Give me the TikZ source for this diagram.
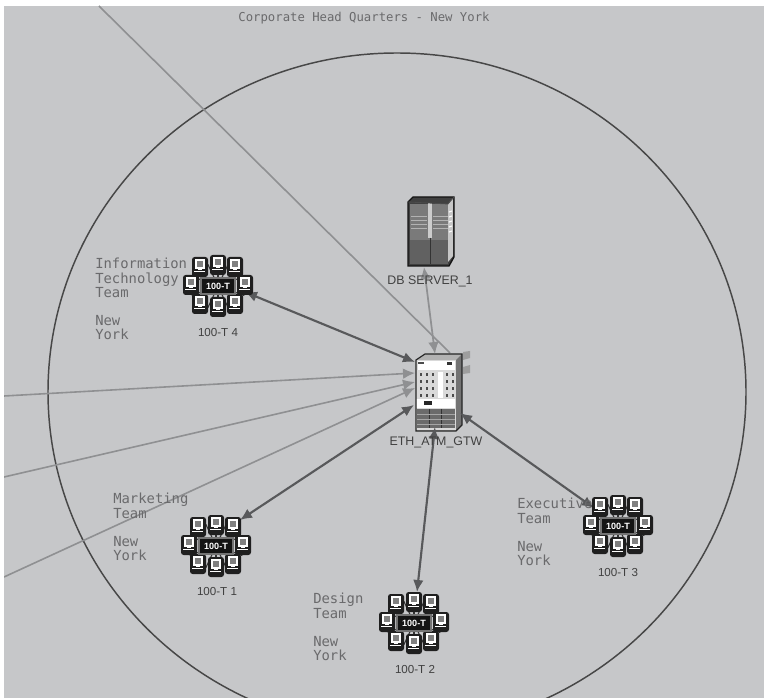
\documentclass[tikz,border=0pt]{standalone}
\usepackage{fontspec}
\setmainfont{Liberation Sans}
\newfontfamily\labelmono{DejaVu Sans Mono}
\usetikzlibrary{arrows.meta}
\definecolor{bgc}{HTML}{C6C7C9}
\definecolor{txtc}{HTML}{6A6A6C}
\definecolor{linkd}{HTML}{58595B}
\definecolor{linkl}{HTML}{8F9092}
\tikzset{
  x=0.75pt,y=-0.75pt,
  duplex/.style={draw=linkd,line width=1.6pt,{Latex[length=9pt,width=8pt]}-{Latex[length=9pt,width=8pt]}},
  srvlink/.style={draw=linkl,line width=1.3pt,{Latex[length=9pt,width=8pt]}-{Latex[length=9pt,width=8pt]}},
  wan/.style={draw=linkl,line width=1.2pt,-{Latex[length=9pt,width=8pt]}},
  devlabel/.style={font=\fontsize{9.3}{10}\selectfont,text=black!75},
  tlabel/.style={font=\fontsize{8.7}{10}\selectfont,text=black!75},
  teamlabel/.style={font=\labelmono\fontsize{10.4}{10.7}\selectfont,text=txtc,align=left,anchor=north west,inner sep=0pt},
  hub/.style={minimum width=27pt,minimum height=13pt,inner sep=0pt},
  group/.pic={
    \foreach \a/\r in {20/28,65/24,90/22,115/24,160/28,200/28,245/24,270/22,295/24,340/28}{
      \draw[black!80,line width=.8pt] (0,0) -- (\a:\r);
    }
    \foreach \px/\py in {-18/-19,0/-21,17/-19,-27/-1,27/-1,-18/18,0/21,17/18}{
      \begin{scope}[shift={(\px,\py)}]
        \fill[black!88,rounded corners=2pt] (-8,-10) rectangle (8,10);
        \draw[white,line width=.8pt] (-4,-7) rectangle (4,1);
        \fill[black!50] (-2.6,-5.6) rectangle (2.6,-.4);
        \draw[white,line width=1.2pt] (-6,4.5) -- (5,4.5);
        \draw[white,line width=.7pt] (-2,2) -- (2,2);
      \end{scope}
    }
    \fill[black!55] (-18,-9) rectangle (18,9);
    \fill[black!92] (-16,-7) rectangle (16,7);
    \node[text=white,font=\fontsize{6.8}{7}\bfseries\selectfont,inner sep=0pt] at (0,0) {100-T};
  },
}
\begin{document}
\begin{tikzpicture}
\useasboundingbox (0,0) rectangle (764,698);
\fill[white] (0,0) rectangle (764,698);
\fill[bgc] (4,6) rectangle (764,698);
\begin{scope}
\clip (4,6) rectangle (764,698);
\draw[black!72,line width=1.1pt] (397,392) ellipse [x radius=349,y radius=339];

% anchors
\node[hub] (gw) at (436,378) {};
\coordinate (wanA) at (99,6);
\coordinate (wanB) at (4,396);
\coordinate (wanC) at (4,477);
\coordinate (wanD) at (4,577);

\node[hub] (t4) at (218,286) {};
\node[hub] (t1) at (216,546) {};
\node[hub] (t2) at (414,623) {};
\node[hub] (t3) at (618,526) {};
\coordinate (srvB) at (424,267);
\coordinate (gwTop) at (435,354);
\coordinate (gwTL) at (415,362);
\coordinate (gwR) at (460,413);
\coordinate (gwBL) at (414,405);
\coordinate (gwB) at (435,427);
\coordinate (gwL1) at (415,373);
\coordinate (gwL2) at (415,382);
\coordinate (gwL3) at (415,388);
\coordinate (t4e) at (245,292);
\coordinate (t1e) at (240,520);
\coordinate (t2e) at (417,592);
\coordinate (t3e) at (594,508);
\coordinate (wanEnd) at (450,353);

\draw[wan,-] (wanA) -- (wanEnd);
\draw[wan] (wanB) -- (gwL1);
\draw[wan] (wanC) -- (gwL2);
\draw[wan] (wanD) -- (gwL3);

% gateway chassis
\fill[black!30] (416,360) -- (425,354) -- (462,354) -- (462,425) -- (456,431) -- (416,431) -- cycle;
\fill[black!55] (456,360) -- (462,354) -- (462,425) -- (456,431) -- cycle;
\fill[black!15] (416,360) rectangle (456,430);
\fill[white] (418,361) rectangle (455,370);
\fill[black!80] (447,362.5) rectangle (452,365.5);
\fill[black!70] (418,362.5) rectangle (424,364.5);
\foreach \xx in {420,426,432,446,452}{
  \foreach \yy in {373,380,387,394}{
    \fill[black!70] (\xx,\yy) rectangle +(2.2,3.4);
  }
}
\fill[white] (438,372) rectangle (443,398);
\fill[white] (416,399) rectangle (455,408);
\fill[black!85] (424,401.5) rectangle (432,405.5);
\fill[black!58] (417,409) rectangle (455,428);
\foreach \xx in {429,441}{\draw[black!80,line width=.6pt] (\xx,409) -- (\xx,428);}
\draw[black!35,line width=.4pt] (417,414) -- (455,414) (417,419) -- (455,419) (417,424) -- (455,424);
\draw[black!85,line width=.9pt] (416,360) -- (425,354) -- (462,354) -- (462,425) -- (456,431) -- (416,431) -- cycle;
% small rear connectors
\fill[black!38] (463,352) -- (470,351) -- (470,358) -- (463,360) -- cycle;
\fill[black!38] (463,367) -- (470,365) -- (470,373) -- (463,374) -- cycle;

% server
\fill[black!75] (408,202) -- (413,197) -- (454,197) -- (454,257) -- (449,266) -- (408,266) -- cycle;
\fill[black!52] (410,204) rectangle (448,264);
\fill[black!62] (410,240) rectangle (448,264);
\fill[black!20] (428,203) rectangle (432,238);
\foreach \yy in {216,220,224,228}{
  \draw[black!30,line width=.6pt] (411,\yy) -- (427,\yy) (433,\yy) -- (448,\yy);
}
\draw[black!80,line width=.7pt] (430,238) -- (430,264);
\fill[black!22] (448,204) -- (453,198) -- (453,256) -- (448,262) -- cycle;
\foreach \yy in {212,217,222,227,232}{
  \draw[white,line width=.8pt] (449,\yy) -- (452,\yy-1);
}
\draw[black!92,line width=1pt] (408,202) -- (413,197) -- (454,197) -- (454,257) -- (449,266) -- (408,266) -- cycle;
\draw[black!70,line width=.6pt] (408,202) -- (448,204) -- (454,197);

% links
\draw[srvlink] (srvB) -- (gwTop);
\draw[duplex] (t4e) -- (gwTL);
\draw[duplex] (t1e) -- (gwBL);
\draw[duplex] (t2e) -- (gwB);
\draw[duplex] (t3e) -- (gwR);

% team icons
\path (t4) pic {group};
\path (t1) pic {group};
\path (t2) pic {group};
\path (t3) pic {group};

% labels
\node[devlabel] (lsrv) at (430,281) {DB SERVER\_1};
\node[devlabel] (lgw) at (436,442) {ETH\_ATM\_GTW};
\node[tlabel] (l4) at (218,333) {100-T 4};
\node[tlabel] (l1) at (217,592) {100-T 1};
\node[tlabel] (l2) at (415,670) {100-T 2};
\node[tlabel] (l3) at (618,573) {100-T 3};

\node[teamlabel] (n4) at (95,258) {Information\\Technology\\Team\\[10.5pt]New\\York};
\node[teamlabel] (n1) at (113,493) {Marketing\\Team\\[10.5pt]New\\York};
\node[teamlabel] (n2) at (313,593) {Design\\Team\\[10.5pt]New\\York};
\node[teamlabel] (n3) at (517,498) {Executive\\Team\\[10.5pt]New\\York};
\node[font=\labelmono\fontsize{9.2}{10}\selectfont,text=txtc,inner sep=0pt] (title) at (364,18) {Corporate Head Quarters - New York};
\end{scope}
\end{tikzpicture}
\end{document}
